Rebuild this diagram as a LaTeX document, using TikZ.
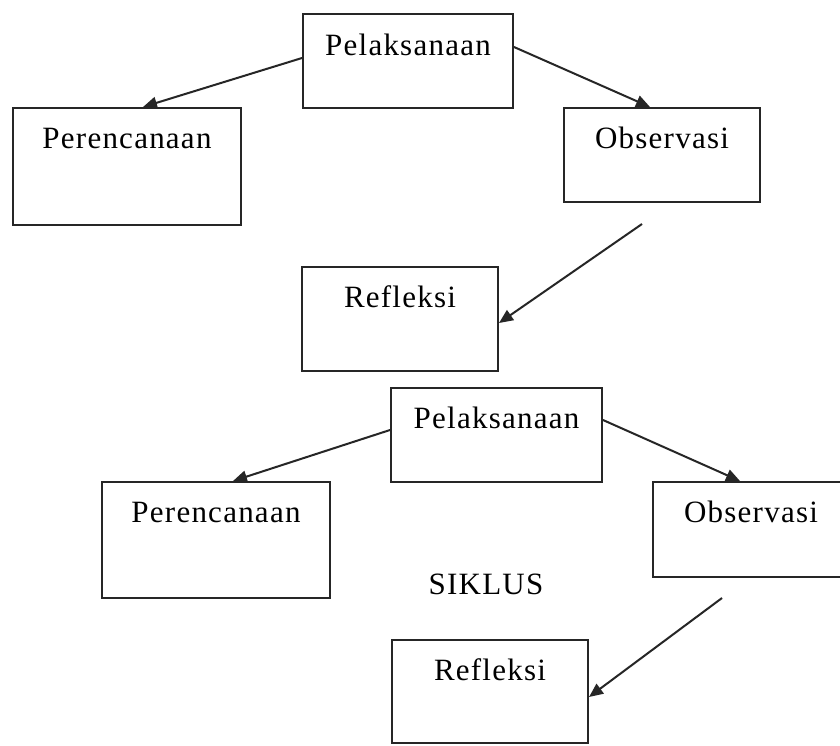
\documentclass[tikz,border=0pt]{standalone}
\usepackage{fontspec}
\setmainfont{Liberation Serif}[LetterSpace=4]
\usetikzlibrary{arrows.meta}
\begin{document}
\begin{tikzpicture}[x=1pt,y=-1pt,
  box/.style={draw=black!85, line width=2pt, inner sep=0pt, rectangle},
  lab/.style={font=\fontsize{31}{37}\selectfont, inner sep=0pt, anchor=base},
  conn/.style={draw=black!85, line width=2pt, -{Triangle[length=14pt,width=12pt]}}]
\clip (0,0) rectangle (840,745);
\fill[white] (0,0) rectangle (840,745);
% boxes
\node[box, minimum width=210, minimum height=94]  (b1) at (408,61) {};
\node[box, minimum width=228, minimum height=117] (b2) at (127,166.5) {};
\node[box, minimum width=196, minimum height=94]  (b3) at (662,155) {};
\node[box, minimum width=196, minimum height=104] (b4) at (400,319) {};
\node[box, minimum width=211, minimum height=94]  (b5) at (496.5,435) {};
\node[box, minimum width=228, minimum height=116] (b6) at (216,540) {};
\node[box, minimum width=196, minimum height=95]  (b7) at (751,529.5) {};
\node[box, minimum width=196, minimum height=103] (b8) at (490,691.5) {};
% labels
\node[lab] (t1) at (408,55) {Pelaksanaan};
\node[lab] (t2) at (127,148) {Perencanaan};
\node[lab] (t3) at (662,148) {Observasi};
\node[lab] (t4) at (400,307) {Refleksi};
\node[lab] (t5) at (496.5,428.5) {Pelaksanaan};
\node[lab] (t6) at (216,522) {Perencanaan};
\node[lab] (t7) at (751,522) {Observasi};
\node[lab] (t8) at (490,680.5) {Refleksi};
\node[lab] (siklus) at (486,594) {SIKLUS};
% free connector ends
\coordinate (c3) at (642,224);
\coordinate (c6) at (722,598);
% connectors
\draw[conn] ([yshift=3pt]b1.west) -- ([xshift=16pt]b2.north);
\draw[conn] ([yshift=14pt]b1.east) -- ([xshift=-12pt]b3.north);
\draw[conn] (c3) -- ([yshift=-4pt]b4.east);
\draw[conn] ([yshift=5pt]b5.west) -- ([xshift=17pt]b6.north);
\draw[conn] ([yshift=15pt]b5.east) -- ([xshift=-11pt]b7.north);
\draw[conn] (c6) -- ([yshift=-5.5pt]b8.east);
\end{tikzpicture}
\end{document}
